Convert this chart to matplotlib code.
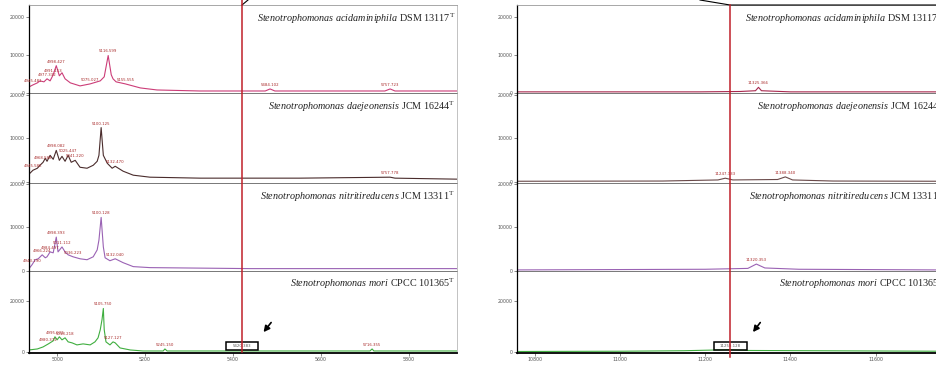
import matplotlib
matplotlib.use("Agg")
import matplotlib.pyplot as plt
from matplotlib.lines import Line2D
from matplotlib.patches import Rectangle
import matplotlib.transforms as mtransforms

plt.rcParams['mathtext.fontset'] = 'custom'
plt.rcParams['mathtext.rm'] = 'Liberation Serif'
plt.rcParams['mathtext.it'] = 'Liberation Serif:italic'

# ---------------- data ----------------
species = ["Stenotrophomonas acidaminiphila", "Stenotrophomonas daejeonensis",
           "Stenotrophomonas nitritireducens", "Stenotrophomonas mori"]
strain_ids = ["DSM 13117", "JCM 16244", "JCM 13311", "CPCC 101365"]

# left window (m/z 4936-5909)
left_mz_1 = [4936, 4945, 4955, 4961, 4970, 4977, 4984, 4991, 4998, 5005, 5011, 5018, 5030, 5052,
             5075, 5098, 5107, 5116, 5123, 5127, 5134, 5155, 5189, 5227, 5325, 5473, 5484, 5495,
             5620, 5745, 5757, 5768, 5909]
left_int_1 = [1600, 2140, 2670, 3200, 2940, 3740, 3200, 4800, 7200, 4540, 5340, 3740, 2670, 1870,
              2400, 3200, 4270, 9880, 4800, 3740, 2940, 2400, 1340, 800, 530, 530, 1070, 530,
              530, 530, 1070, 530, 530]
left_mz_2 = [4936, 4945, 4955, 4961, 4968, 4973, 4977, 4984, 4991, 4998, 5005, 5011, 5018, 5025,
             5032, 5041, 5052, 5068, 5082, 5091, 5095, 5100, 5105, 5114, 5125, 5132, 5150, 5173,
             5211, 5325, 5552, 5757, 5768, 5909]
left_int_2 = [1820, 2720, 3180, 3860, 4540, 5450, 4770, 6130, 5220, 7260, 4990, 5900, 4770, 6130,
              4540, 4990, 3400, 3180, 3860, 4770, 6130, 12480, 6130, 4310, 3180, 3630, 2500, 1590,
              1130, 910, 910, 1130, 910, 680]
left_mz_3 = [4936, 4943, 4950, 4957, 4966, 4973, 4977, 4984, 4991, 4998, 5002, 5011, 5018, 5025,
             5036, 5052, 5068, 5082, 5091, 5095, 5100, 5105, 5109, 5120, 5132, 5150, 5173, 5211,
             5439, 5909]
left_int_3 = [450, 1360, 2500, 2720, 3630, 2950, 3180, 4310, 4090, 7720, 4310, 5450, 4310, 3630,
              3180, 2720, 2500, 3180, 4770, 7040, 12260, 5450, 2950, 2270, 2720, 1820, 910, 680,
              450, 450]
left_mz_4 = [4936, 4955, 4968, 4980, 4991, 4995, 5000, 5005, 5011, 5018, 5025, 5034, 5045, 5059,
             5075, 5086, 5093, 5098, 5102, 5105, 5107, 5111, 5120, 5127, 5132, 5143, 5166, 5195,
             5241, 5245, 5250, 5711, 5716, 5720, 5909]
left_int_4 = [800, 1200, 2000, 3200, 4400, 6000, 4800, 6000, 4800, 5600, 4000, 3600, 2800, 3200,
              2800, 4000, 5600, 8800, 12800, 17200, 8800, 4000, 2800, 4000, 3600, 1600, 800, 400,
              400, 1200, 400, 400, 1200, 400, 400]

left_peaks_1 = [(4945, 2140, "4945.481"), (4977, 3740, "4977.332"), (4991, 4800, "4991.113"),
                (4998, 7200, "4998.427"), (5075, 2400, "5075.027"), (5116, 9880, "5116.599"),
                (5155, 2400, "5155.555"), (5484, 1070, "5484.102"), (5757, 1070, "5757.723")]
left_peaks_2 = [(4945, 2720, "4945.586"), (4968, 4540, "4968.588"), (4998, 7260, "4998.082"),
                (5025, 6130, "5025.447"), (5041, 4990, "5041.220"), (5100, 12480, "5100.125"),
                (5132, 3630, "5132.470"), (5757, 1130, "5757.778")]
left_peaks_3 = [(4943, 1360, "4943.190"), (4966, 3630, "4966.224"), (4984, 4310, "4984.497"),
                (4998, 7720, "4998.393"), (5011, 5450, "5011.112"), (5036, 3180, "5036.223"),
                (5100, 12260, "5100.128"), (5132, 2720, "5132.040")]
left_peaks_4 = [(4980, 3200, "4980.372"), (4995, 6000, "4995.032"), (5018, 5600, "5018.218"),
                (5105, 17200, "5105.750"), (5127, 4000, "5127.127"), (5245, 1200, "5245.150"),
                (5716, 1200, "5716.355")]

# right window (m/z 10758-11746)
right_mz_1 = [10758, 11000, 11188, 11282, 11318, 11325, 11332, 11400, 11746]
right_int_1 = [300, 300, 300, 400, 600, 1500, 600, 300, 300]
right_mz_2 = [10758, 11100, 11230, 11247, 11265, 11370, 11388, 11405, 11500, 11746]
right_int_2 = [200, 250, 500, 900, 500, 600, 1200, 500, 250, 200]
right_mz_3 = [10758, 11200, 11300, 11320, 11340, 11420, 11746]
right_int_3 = [150, 300, 500, 1500, 600, 300, 150]
right_mz_4 = [10758, 11000, 11150, 11256, 11300, 11746]
right_int_4 = [200, 300, 500, 900, 600, 300]

right_peaks_1 = [(11325, 1500, "11325.366")]
right_peaks_2 = [(11247, 900, "11247.133"), (11388, 1200, "11388.340")]
right_peaks_3 = [(11320, 1500, "11320.353")]
right_peaks_4 = []

left_xticks = [5000, 5200, 5400, 5600, 5800]
right_xticks = [10800, 11000, 11200, 11400, 11600]
marker_left = (5420, "5420.383")
marker_right = (11259, "11259.128")

# ---------------- layout / style ----------------
W, H = 937, 365
fig = plt.figure(figsize=(W / 100, H / 100), dpi=100)

row_px = [5, 93, 183, 271, 353]
ylims = [(0, 23200), (-200, 20400), (-100, 20200), (-400, 32000)]
yticks = [[0, 10000, 20000], [0, 10000, 20000], [0, 10000, 20000], [0, 20000]]
colors = ['#cc3d78', '#4a2c2c', '#9a62b4', '#3fae3f']
right_colors = ['#a8284e', '#6a4a4a', '#9a62b4', '#3fae3f']
label_color = '#a82a2a'

panels = [
    dict(x0=29, x1=457, xlim=(4936, 5909), xticks=left_xticks,
         mz=[left_mz_1, left_mz_2, left_mz_3, left_mz_4],
         it=[left_int_1, left_int_2, left_int_3, left_int_4],
         pk=[left_peaks_1, left_peaks_2, left_peaks_3, left_peaks_4],
         col=colors, txt_x=0.995, marker=marker_left),
    dict(x0=517, x1=948, xlim=(10758, 11770), xticks=right_xticks,
         mz=[right_mz_1, right_mz_2, right_mz_3, right_mz_4],
         it=[right_int_1, right_int_2, right_int_3, right_int_4],
         pk=[right_peaks_1, right_peaks_2, right_peaks_3, right_peaks_4],
         col=right_colors, txt_x=0.99, marker=marker_right),
]

axes_bottom = []
for p in panels:
    for r in range(4):
        top, bot = row_px[r], row_px[r + 1]
        ax = fig.add_axes([p['x0'] / W, 1 - bot / H, (p['x1'] - p['x0']) / W, (bot - top) / H])
        ax.plot(p['mz'][r], p['it'][r], color=p['col'][r], lw=0.8)
        ax.set_xlim(*p['xlim'])
        ax.set_ylim(*ylims[r])
        ax.set_yticks(yticks[r])
        ax.set_yticklabels([str(v) for v in yticks[r]])
        ax.tick_params(axis='y', labelsize=3.4, length=2, width=0.5, pad=1, colors='#555555')
        ax.spines['left'].set_color('black')
        ax.spines['left'].set_linewidth(0.9)
        ax.spines['right'].set_color('#aaaaaa')
        ax.spines['right'].set_linewidth(0.5)
        if r == 0:
            ax.spines['top'].set_color('#999999')
            ax.spines['top'].set_linewidth(0.6)
            ax.spines['top'].set_linestyle((0, (2, 1)))
        else:
            ax.spines['top'].set_visible(False)
        if r < 3:
            ax.spines['bottom'].set_color('#777777')
            ax.spines['bottom'].set_linewidth(0.7)
            ax.set_xticks([])
        else:
            ax.spines['bottom'].set_color('black')
            ax.spines['bottom'].set_linewidth(1.3)
            ax.set_xticks(p['xticks'])
            ax.set_xticklabels([str(v) for v in p['xticks']])
            ax.tick_params(axis='x', labelsize=3.4, length=2, width=0.5, pad=1, colors='#555555')
            axes_bottom.append(ax)
        ax.patch.set_alpha(0)
        for mz, inten, lab in p['pk'][r]:
            ax.annotate(lab, (mz, inten), xytext=(0, 1.5), textcoords='offset points',
                        ha='center', va='bottom', fontsize=2.8, color=label_color)
        ax.text(p['txt_x'], 0.93, r"$\mathit{" + species[r].replace(" ", r"\ ") + "}$ " +
                strain_ids[r] + r"$^{\mathrm{T}}$",
                transform=ax.transAxes, ha='right', va='top', fontsize=7.3,
                family='Liberation Serif', color='#222222')
    p['ax4'] = ax

# marker boxes, arrows and red lines
for p, in_bounds in zip(panels, [(1.0, 352), (1 - 5 / H, 357)]):
    ax = p['ax4']
    mz, lab = p['marker']
    half = 36 if p is panels[0] else 39
    ax.add_patch(Rectangle((mz - half, 800), 2 * half, 3000, fill=False, ec='black', lw=1.1,
                           zorder=5))
    ax.text(mz, 2300, lab, ha='center', va='center', fontsize=2.8, color='#555555', zorder=6)
    ax.annotate('', xy=(mz + 0.42 * half * 3, 7000), xytext=(mz + 0.42 * half * 3 + 25, 12500),
                arrowprops=dict(arrowstyle='-|>,head_width=0.18,head_length=0.35',
                                color='black', lw=1.2))
    trans = mtransforms.blended_transform_factory(ax.transData, fig.transFigure)
    top_f, bot_px = in_bounds
    fig.add_artist(Line2D([mz, mz], [top_f, 1 - bot_px / H], transform=trans,
                          color='#c0202a', lw=1.1, zorder=10))

# connector lines at the top
fig.add_artist(Line2D([242 / W, 248 / W], [1 - 5 / H, 1.0], color='black', lw=0.8))
fig.add_artist(Line2D([700 / W, 730 / W, 937 / W], [1.0, 1 - 5 / H, 1 - 5 / H],
                      color='black', lw=0.8))

fig.savefig("out.png", dpi=100)
